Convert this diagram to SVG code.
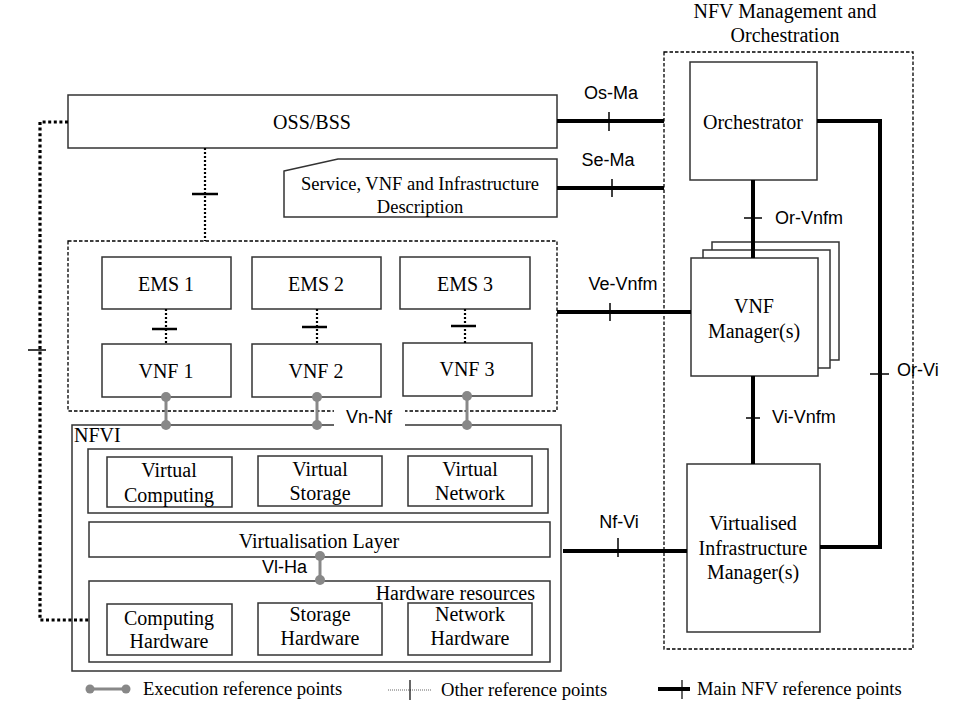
<svg xmlns="http://www.w3.org/2000/svg" width="979" height="709" viewBox="0 0 979 709">
<style>
.box{fill:#fff;stroke:#333;stroke-width:1.5}
.dash{fill:none;stroke:#000;stroke-width:1.3;stroke-dasharray:3.5 2}
.serif{font-family:"Liberation Serif","Times New Roman",serif;font-size:20px;fill:#000}
.sans{font-family:"Liberation Sans",Arial,sans-serif;font-size:18px;fill:#000}
.leg{font-family:"Liberation Serif","Times New Roman",serif;font-size:18.6px;fill:#000}
.mid{text-anchor:middle}
.main{fill:none;stroke:#000;stroke-width:4}
.tick{stroke:#000;stroke-width:1.5}
.tickd{stroke:#000;stroke-width:2.5}
.dot{fill:none;stroke:#000;stroke-width:2.2;stroke-dasharray:2 2}
.dotb{fill:none;stroke:#000;stroke-width:3.2;stroke-dasharray:3 2.6}
.exe{stroke:#888;stroke-width:3}
.exd{fill:#888}
</style>

<g id="title">
<text class="serif mid" x="785" y="18">NFV Management and</text>
<text class="serif mid" x="785" y="42">Orchestration</text>
</g>

<g id="mano-frame"><rect class="dash" x="664" y="52" width="249" height="597"/></g>

<g id="vnf-domain"><rect class="dash" x="68" y="241" width="489" height="170"/></g>

<g id="nfvi">
<rect class="box" x="72" y="425" width="489" height="246"/>
<text class="serif" x="74" y="442">NFVI</text>
</g>

<g id="oss-bss">
<rect class="box" x="68" y="95" width="489" height="53"/>
<text class="serif mid" x="312" y="129">OSS/BSS</text>
</g>

<g id="service-desc">
<path class="box" d="M284,171 L338,159 L557,159 L557,217 L284,217 Z"/>
<text class="serif mid" x="420" y="190" style="font-size:18.5px">Service, VNF and Infrastructure</text>
<text class="serif mid" x="420" y="213" style="font-size:18.5px">Description</text>
</g>

<g id="ems1"><rect class="box" x="102" y="257" width="129" height="52"/><text class="serif mid" x="166" y="291">EMS 1</text></g>
<g id="ems2"><rect class="box" x="252" y="257" width="129" height="52"/><text class="serif mid" x="316" y="291">EMS 2</text></g>
<g id="ems3"><rect class="box" x="400" y="257" width="130" height="52"/><text class="serif mid" x="465" y="291">EMS 3</text></g>

<g id="vnf1"><rect class="box" x="102" y="344" width="129" height="53"/><text class="serif mid" x="166" y="378">VNF 1</text></g>
<g id="vnf2"><rect class="box" x="252" y="344" width="129" height="53"/><text class="serif mid" x="316" y="378">VNF 2</text></g>
<g id="vnf3"><rect class="box" x="403" y="343" width="129" height="53"/><text class="serif mid" x="467" y="376">VNF 3</text></g>

<g id="virtual-resources">
<rect class="box" x="88" y="449" width="460" height="64"/>
<rect class="box" x="107" y="457" width="125" height="50"/>
<text class="serif mid" x="169" y="477">Virtual</text><text class="serif mid" x="169" y="502">Computing</text>
<rect class="box" x="258" y="456" width="124" height="50"/>
<text class="serif mid" x="320" y="476">Virtual</text><text class="serif mid" x="320" y="500">Storage</text>
<rect class="box" x="408" y="456" width="124" height="50"/>
<text class="serif mid" x="470" y="476">Virtual</text><text class="serif mid" x="470" y="500">Network</text>
</g>

<g id="virtualisation-layer">
<rect class="box" x="89" y="522" width="461" height="35"/>
<text class="serif mid" x="319" y="548">Virtualisation Layer</text>
</g>

<g id="hardware-resources">
<rect class="box" x="89" y="581" width="461" height="81"/>
<text class="serif" x="535" y="600" text-anchor="end">Hardware resources</text>
<rect class="box" x="107" y="604" width="125" height="51"/>
<text class="serif mid" x="169" y="625">Computing</text><text class="serif mid" x="169" y="648">Hardware</text>
<rect class="box" x="258" y="603" width="124" height="52"/>
<text class="serif mid" x="320" y="621">Storage</text><text class="serif mid" x="320" y="645">Hardware</text>
<rect class="box" x="408" y="603" width="124" height="52"/>
<text class="serif mid" x="470" y="621">Network</text><text class="serif mid" x="470" y="645">Hardware</text>
</g>

<g id="orchestrator">
<rect class="box" x="690" y="62" width="127" height="118"/>
<text class="serif mid" x="753" y="129">Orchestrator</text>
</g>

<g id="vnf-manager">
<rect class="box" x="712" y="242" width="127" height="118"/>
<rect class="box" x="703" y="250" width="127" height="118"/>
<rect class="box" x="691" y="258" width="127" height="118"/>
<text class="serif mid" x="754" y="313">VNF</text>
<text class="serif mid" x="754" y="338">Manager(s)</text>
</g>

<g id="vim">
<rect class="box" x="687" y="464" width="133" height="168"/>
<text class="serif mid" x="753" y="530">Virtualised</text>
<text class="serif mid" x="753" y="555">Infrastructure</text>
<text class="serif mid" x="753" y="579">Manager(s)</text>
</g>

<g id="connectors">
<path class="dotb" d="M68,122 L40,122 L40,620 L89,620"/>
<line class="tick" x1="28" y1="350" x2="46" y2="350"/>
<line class="dot" x1="205" y1="148" x2="205" y2="241"/>
<line class="tickd" x1="192" y1="194" x2="218" y2="194"/>
<line class="dot" x1="166" y1="309" x2="166" y2="344"/>
<line class="tickd" x1="152" y1="329" x2="177" y2="329"/>
<line class="dot" x1="317" y1="309" x2="317" y2="344"/>
<line class="tickd" x1="302" y1="327" x2="327" y2="327"/>
<line class="dot" x1="465" y1="309" x2="465" y2="343"/>
<line class="tickd" x1="451" y1="326" x2="476" y2="326"/>

<line class="main" x1="557" y1="121" x2="664" y2="121"/>
<line class="tick" x1="609" y1="112" x2="609" y2="131"/>
<text class="sans mid" x="611" y="99">Os-Ma</text>
<line class="main" x1="557" y1="188" x2="664" y2="188"/>
<line class="tick" x1="612" y1="179" x2="612" y2="197"/>
<text class="sans mid" x="608" y="166">Se-Ma</text>
<line class="main" x1="557" y1="312" x2="691" y2="312"/>
<line class="tick" x1="610" y1="303" x2="610" y2="321"/>
<text class="sans mid" x="623" y="290">Ve-Vnfm</text>
<line class="main" x1="563" y1="551" x2="687" y2="551"/>
<line class="tick" x1="618" y1="538" x2="618" y2="557"/>
<text class="sans mid" x="619" y="528">Nf-Vi</text>
<line class="main" x1="753" y1="180" x2="753" y2="258"/>
<line class="tick" x1="744" y1="218" x2="762" y2="218"/>
<text class="sans" x="775" y="224">Or-Vnfm</text>
<line class="main" x1="753" y1="376" x2="753" y2="464"/>
<line class="tick" x1="746" y1="418" x2="760" y2="418"/>
<text class="sans" x="772" y="423">Vi-Vnfm</text>
<path class="main" d="M817,121 L880,121 L880,547 L820,547"/>
<line class="tick" x1="870" y1="374" x2="889" y2="374"/>
<text class="sans" x="897" y="376">Or-Vi</text>

<rect x="334" y="404" width="71" height="26" fill="#fff"/>
<text class="sans mid" x="369" y="423">Vn-Nf</text>
<line class="exe" x1="166" y1="397" x2="166" y2="425"/>
<circle class="exd" cx="166" cy="397" r="5"/><circle class="exd" cx="166" cy="425" r="5"/>
<line class="exe" x1="317" y1="397" x2="317" y2="425"/>
<circle class="exd" cx="317" cy="397" r="5"/><circle class="exd" cx="317" cy="425" r="5"/>
<line class="exe" x1="467" y1="396" x2="467" y2="425"/>
<circle class="exd" cx="467" cy="396" r="5"/><circle class="exd" cx="467" cy="425" r="5"/>
<line class="exe" x1="320" y1="556" x2="320" y2="580"/>
<circle class="exd" cx="320" cy="556" r="5"/><circle class="exd" cx="320" cy="580" r="5"/>
<text class="sans" x="307" y="573" text-anchor="end">Vl-Ha</text>
</g>

<g id="legend">
<line class="exe" x1="90" y1="689" x2="126" y2="689"/>
<circle class="exd" cx="90" cy="689" r="4.5"/><circle class="exd" cx="126" cy="689" r="4.5"/>
<text class="leg" x="143" y="695">Execution reference points</text>
<line x1="388" y1="690" x2="432" y2="690" stroke="#666" stroke-width="1" stroke-dasharray="1 1"/>
<line x1="410" y1="680" x2="410" y2="700" stroke="#000" stroke-width="1.2"/>
<text class="leg" x="441" y="696">Other reference points</text>
<line x1="658" y1="689" x2="690" y2="689" stroke="#000" stroke-width="4"/>
<line x1="682" y1="680" x2="682" y2="699" stroke="#000" stroke-width="1.2"/>
<text class="leg" x="697" y="695">Main NFV reference points</text>
</g>
</svg>
